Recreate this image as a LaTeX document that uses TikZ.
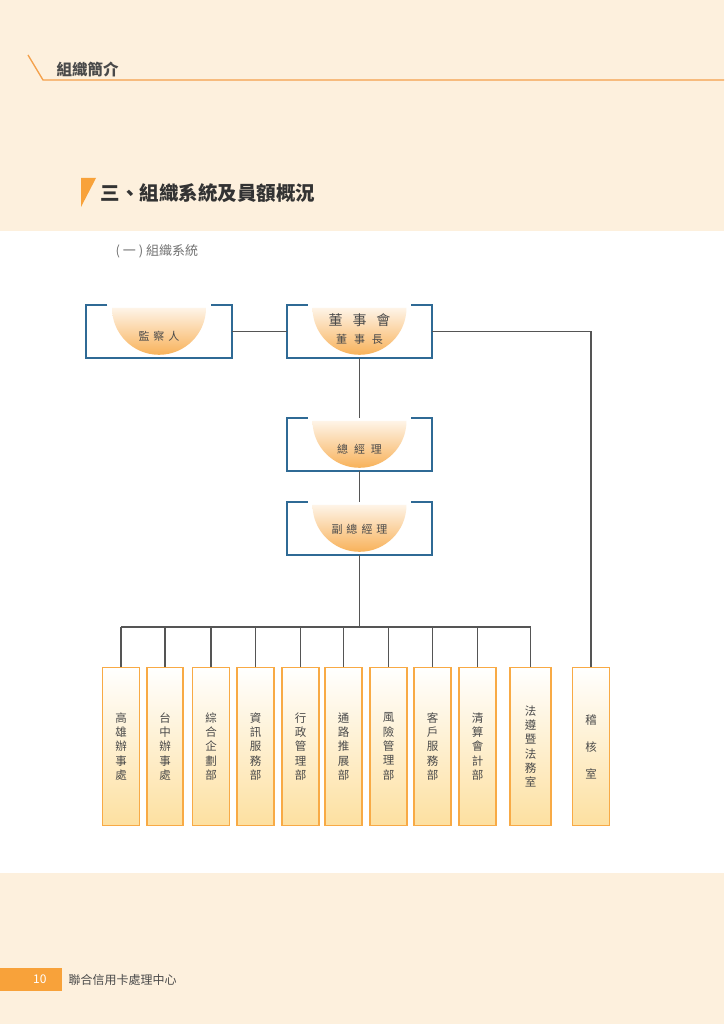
\documentclass[tikz,border=0pt]{standalone}
\usepackage{fontspec}
\newfontfamily\cjk{Noto Sans CJK TC}
\usetikzlibrary{positioning,calc}
\definecolor{pagebeige}{HTML}{FDF0DD}
\definecolor{lineorange}{HTML}{F4A04A}
\definecolor{markorange}{HTML}{F8A23A}
\definecolor{boxblue}{HTML}{2F6A95}
\definecolor{linegray}{HTML}{555555}
\definecolor{textgray}{HTML}{4A4A4A}
\definecolor{deptorange}{HTML}{F8AA45}
\definecolor{deptfill}{HTML}{FDE0A0}
\definecolor{capfill}{HTML}{F8B25A}
\definecolor{captop}{HTML}{FEF4E8}
\tikzset{
  headbox/.style={minimum width=145pt, minimum height=53pt, inner sep=0pt},
  captext/.style={text=textgray, font=\cjk\fontsize{11}{13}\selectfont, inner sep=0pt},
  deptbox/.style={draw=deptorange, line width=1.8pt, top color=white, bottom color=deptfill,
    minimum height=158pt, inner sep=0pt, align=center, text=textgray,
    font=\cjk\fontsize{11.5}{14.3}\selectfont},
  link/.style={draw=linegray, line width=1.6pt},
  bracket/.style={draw=boxblue, line width=1.8pt},
}
\begin{document}
\begin{tikzpicture}[x=1pt,y=-1pt]
    %background
    \fill[pagebeige] (0,0) rectangle (724,231);
    \fill[white] (0,231) rectangle (724,873);
    \fill[pagebeige] (0,873) rectangle (724,1024);
    \useasboundingbox (0,0) rectangle (724,1024);
    %header
    \draw[lineorange, line width=1.3pt] (28,55) -- (43,80) -- (724,80);
    \node[anchor=west, text=textgray, font=\cjk\bfseries\fontsize{15.5}{18}\selectfont] (header) at (53,69) {組織簡介};
    %title
    \fill[markorange] (81,178) -- (96,178) -- (81,207) -- cycle;
    \node[anchor=west, text=black!80, font=\cjk\bfseries\fontsize{19.5}{22}\selectfont] (title) at (97,193) {三、組織系統及員額概況};
    \node[anchor=west, text=black!55, font=\cjk\fontsize{13}{15}\selectfont] (subtitle) at (112,251) {( 一 ) 組織系統};
    %top boxes
    \node[headbox] (super) at (159,331.5) {};
    \node[headbox] (board) at (359.5,331.5) {};
    \node[headbox] (gm) at (359.5,444.5) {};
    \node[headbox] (vgm) at (359.5,528.5) {};
    \foreach \b in {super,board,gm,vgm}{
        \shade[top color=captop, bottom color=capfill] ($(\b.north)+(-47,3)$) arc (180:0:47) -- cycle;
        \draw[bracket] ($(\b.north west)+(21,0)$) -- (\b.north west) -- (\b.south west)
            -- (\b.south east) -- (\b.north east) -- ++(-21,0);
    }
    \node[captext] (supertext) at ($(super.north)+(0,31)$) {監\hspace{4pt}察\hspace{4pt}人};
    \node[captext, font=\cjk\fontsize{14}{16}\selectfont] (boardtext) at ($(board.north)+(0,15)$) {董\hspace{10pt}事\hspace{10pt}會};
    \node[captext] (chairtext) at ($(board.north)+(0,35)$) {董\hspace{7pt}事\hspace{7pt}長};
    \node[captext] (gmtext) at ($(gm.north)+(0,31)$) {總\hspace{6pt}經\hspace{6pt}理};
    \node[captext] (vgmtext) at ($(vgm.north)+(0,27)$) {副\hspace{4pt}總\hspace{4pt}經\hspace{4pt}理};
    %links
    \draw[link] (super.east) -- (board.west);
    \draw[link] (board.south) -- (gm.north);
    \draw[link] (gm.south) -- (vgm.north);
    %departments
    \coordinate (busL) at (121,627);
    \coordinate (busR) at (530.5,627);
    \draw[link] (vgm.south) -- (vgm.south |- busL);
    \draw[link] (busL) -- (busR);
    \foreach \x/\w/\n/\t in {121/37/kaohsiung/高\\雄\\辦\\事\\處,
                             165/36/taichung/台\\中\\辦\\事\\處,
                             211/37/planning/綜\\合\\企\\劃\\部,
                             255.5/37/it/資\\訊\\服\\務\\部,
                             300.5/37/admin/行\\政\\管\\理\\部,
                             343.5/37/channel/通\\路\\推\\展\\部,
                             388.5/37/risk/風\\險\\管\\理\\部,
                             432.5/37/service/客\\戶\\服\\務\\部,
                             477.5/37/clearing/清\\算\\會\\計\\部,
                             530.5/41/legal/法\\遵\\暨\\法\\務\\室}{
        \node[deptbox, minimum width=\w pt] (\n) at (\x,746.5) {\t};
        \draw[link] (\n.north) -- (\n.north |- busL);
    }
    \node[deptbox, minimum width=37pt] (audit) at (591,746.5) {稽\\[12.7pt]核\\[12.7pt]室};
    \draw[link] (board.east) -| (audit.north);
    %footer
    \fill[markorange] (0,968) rectangle (62,991);
    \node[anchor=east, text=white, font=\cjk\fontsize{12}{14}\selectfont] (pagenum) at (50,979.5) {10};
    \node[anchor=west, text=textgray, font=\cjk\fontsize{12}{14}\selectfont] (footer) at (65,980) {聯合信用卡處理中心};
\end{tikzpicture}
\end{document}
